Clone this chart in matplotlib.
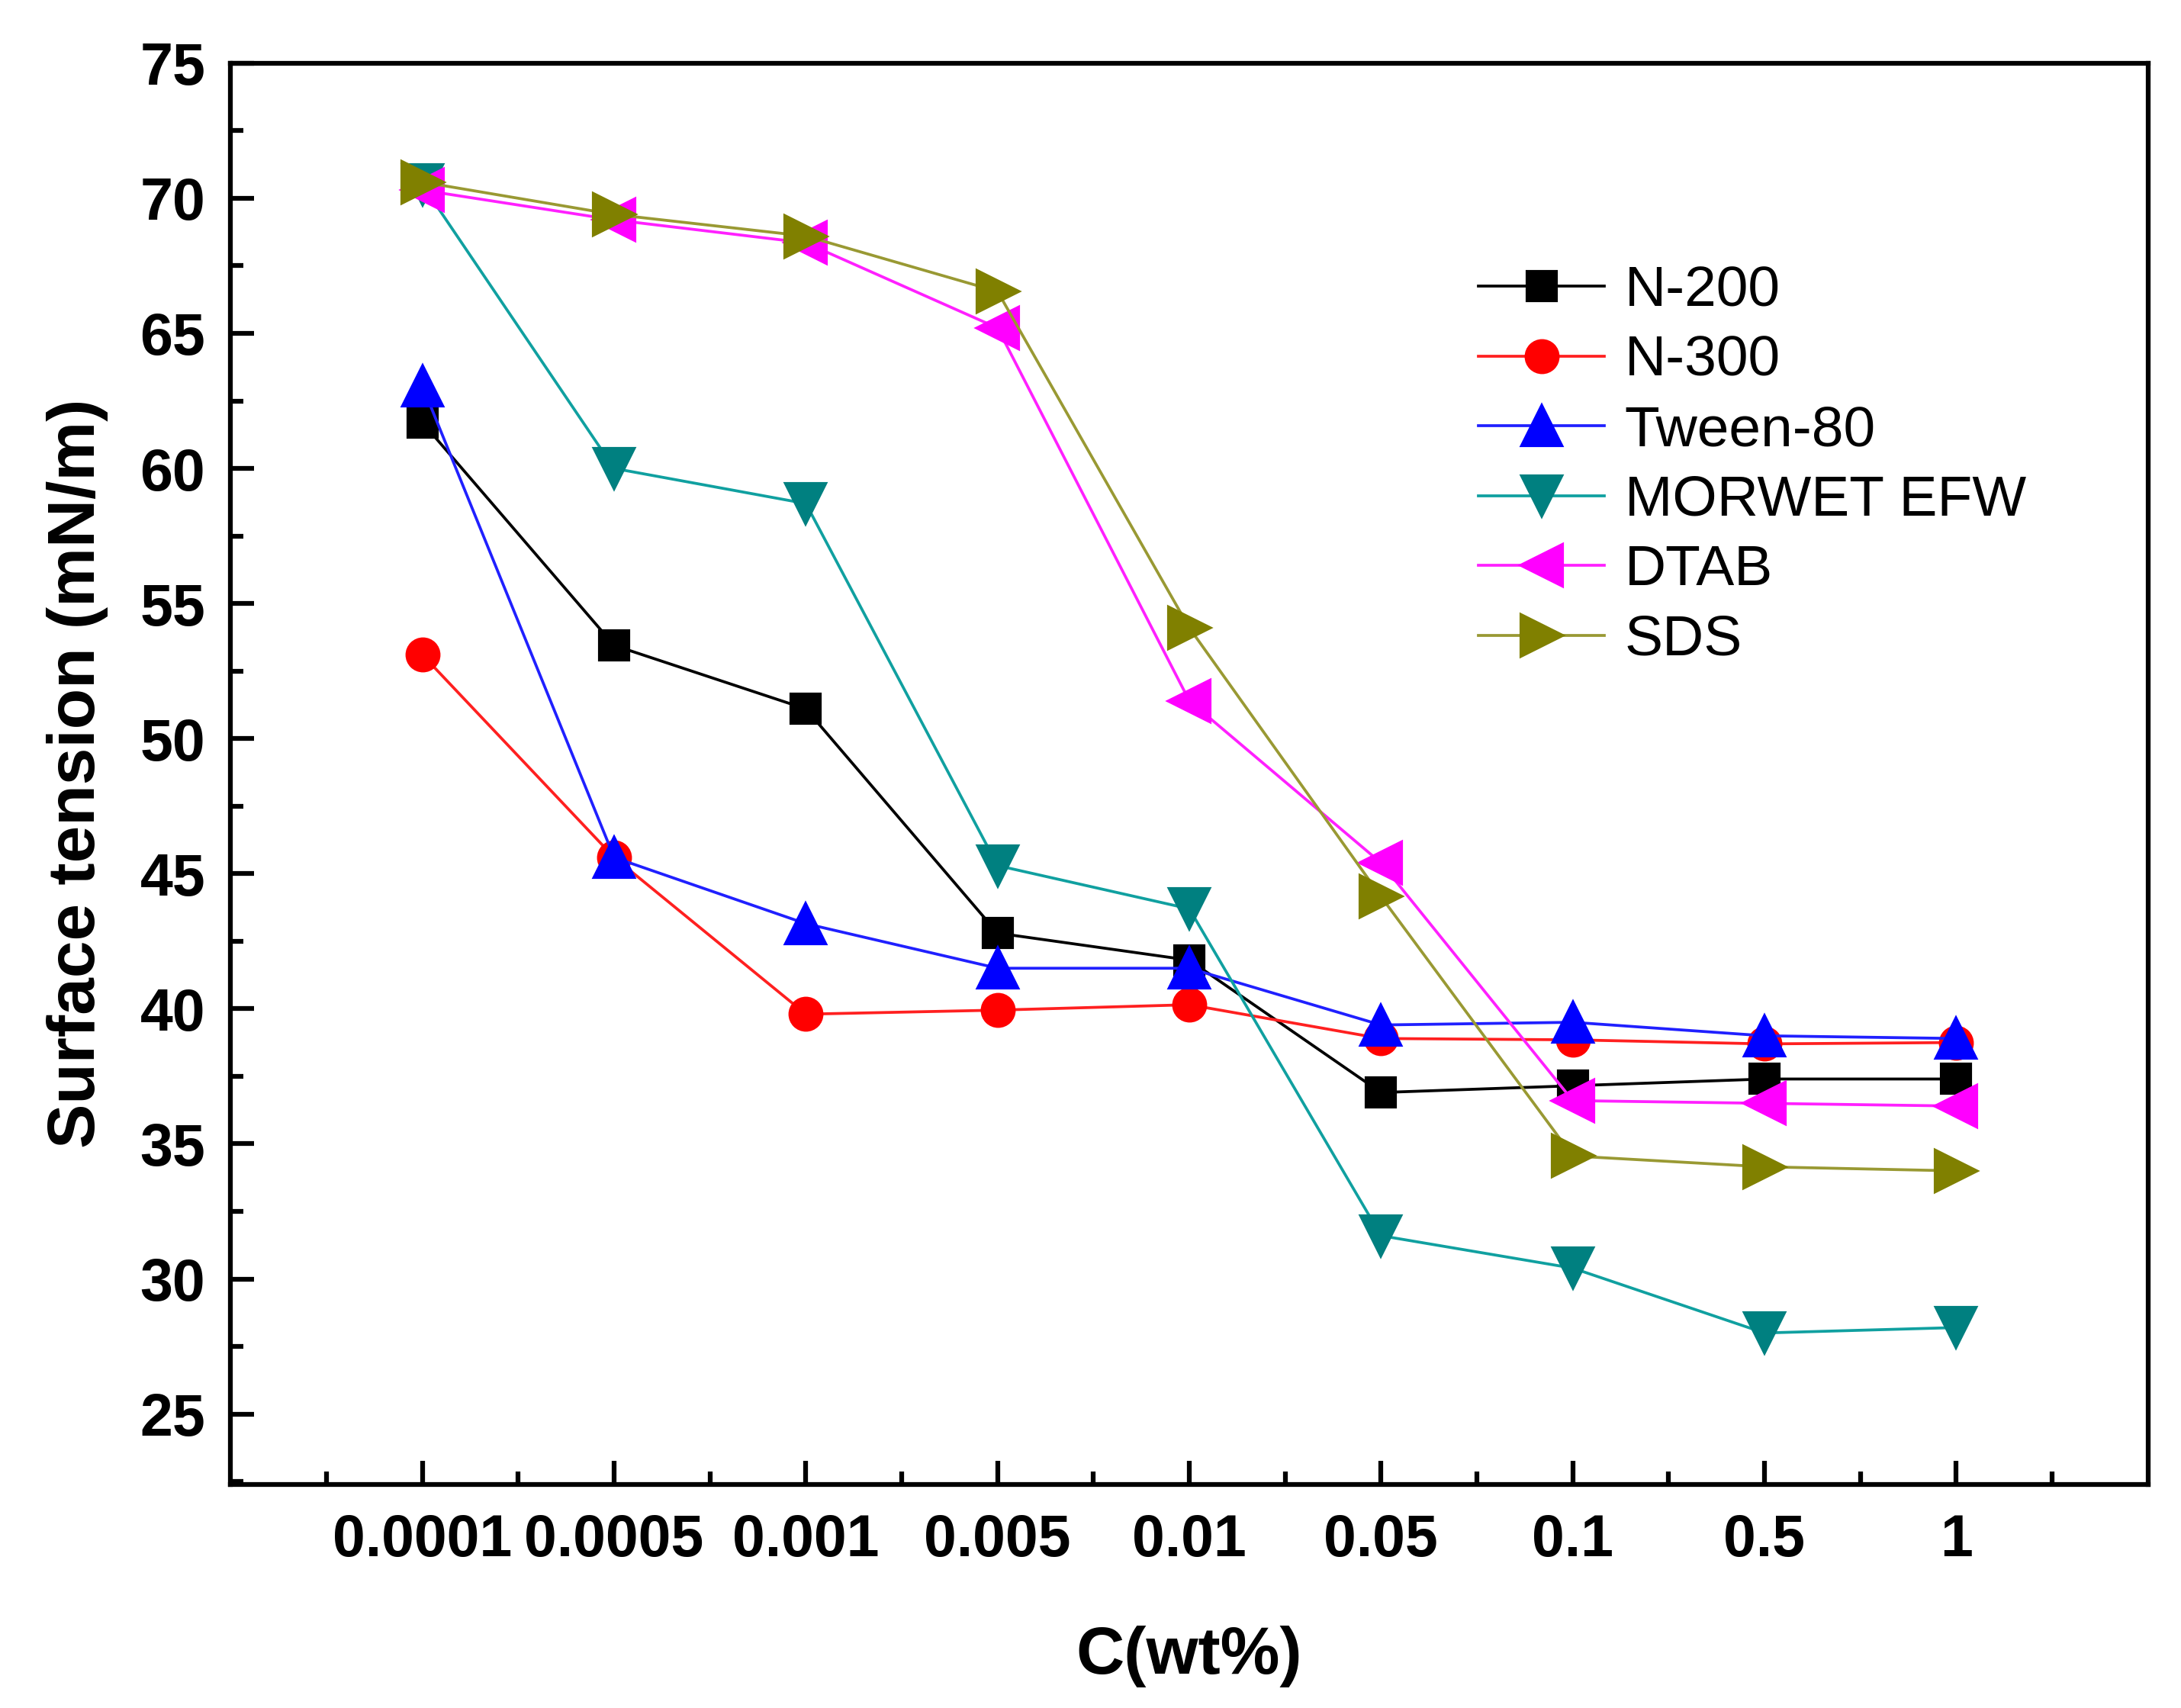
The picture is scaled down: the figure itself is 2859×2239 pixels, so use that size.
import numpy as np
import matplotlib
matplotlib.use('Agg')
import matplotlib.pyplot as plt
from matplotlib.ticker import MultipleLocator

plt.rcParams['font.family'] = ['Liberation Sans', 'DejaVu Sans']

conc_labels = ['0.0001', '0.0005', '0.001', '0.005', '0.01', '0.05', '0.1', '0.5', '1']

n200 = [61.7, 53.45, 51.1, 42.8, 41.8, 36.9, 37.15, 37.4, 37.4]
n300 = [53.1, 45.6, 39.8, 39.95, 40.15, 38.9, 38.85, 38.7, 38.75]
tween80 = [63.05, 45.6, 43.15, 41.5, 41.5, 39.4, 39.5, 39.0, 38.9]
morwet = [70.5, 60.0, 58.7, 45.3, 43.7, 31.6, 30.4, 28.0, 28.2]
dtab = [70.3, 69.2, 68.35, 65.2, 51.4, 45.4, 36.6, 36.5, 36.4]
sds = [70.6, 69.4, 68.6, 66.55, 54.1, 44.15, 34.55, 34.15, 34.0]

x = np.arange(1, len(conc_labels) + 1)

fig = plt.figure(figsize=(2859 / 300, 2239 / 300), dpi=300)
ax = fig.add_axes([0.1058, 0.131, 0.879, 0.832])

lw = 0.9
ax.plot(x, n200, color='black', lw=lw, marker='s', ms=9, mfc='black', mec='black', label='N-200')
ax.plot(x, n300, color='#ff2020', lw=lw, marker='o', ms=10, mfc='red', mec='red', label='N-300')
ax.plot(x, tween80, color='#2020ff', lw=lw, marker='^', ms=12.5, mfc='blue', mec='blue', label='Tween-80')
ax.plot(x, morwet, color='#10a0a0', lw=lw, marker='v', ms=12.5, mfc='#008080', mec='#008080', label='MORWET EFW')
ax.plot(x, dtab, color='#ff20ff', lw=lw, marker='<', ms=13, mfc='#ff00ff', mec='#ff00ff', label='DTAB')
ax.plot(x, sds, color='#999933', lw=lw, marker='>', ms=13, mfc='#808000', mec='#808000', label='SDS')

ax.set_xlim(0, 10)
ax.set_ylim(22.4, 75)
ax.set_xticks(x)
ax.set_xticklabels(conc_labels)
ax.xaxis.set_minor_locator(MultipleLocator(1, offset=0.5))
ax.yaxis.set_minor_locator(MultipleLocator(2.5))
ax.set_yticks(np.arange(25, 76, 5))

for s in ax.spines.values():
    s.set_linewidth(1.5)

ax.tick_params(which='both', direction='in', top=False, right=False, width=1.5)
ax.tick_params(which='major', length=7.5)
ax.tick_params(which='minor', length=4)
ax.tick_params(axis='x', which='major', pad=9)
ax.tick_params(axis='y', which='major', pad=8)
for lab in ax.get_xticklabels() + ax.get_yticklabels():
    lab.set_fontsize(18.5)
    lab.set_fontweight('bold')

ax.set_xlabel('C(wt%)', fontsize=21, fontweight='bold', labelpad=18)
ax.set_ylabel('Surface tension (mN/m)', fontsize=21, fontweight='bold', labelpad=10)

ax.legend(loc='upper left', bbox_to_anchor=(0.651, 0.858), frameon=False,
          fontsize=18, handlelength=2.2, handletextpad=0.35, labelspacing=0.3,
          borderpad=0, borderaxespad=0)

fig.savefig('out.png', dpi=300)
